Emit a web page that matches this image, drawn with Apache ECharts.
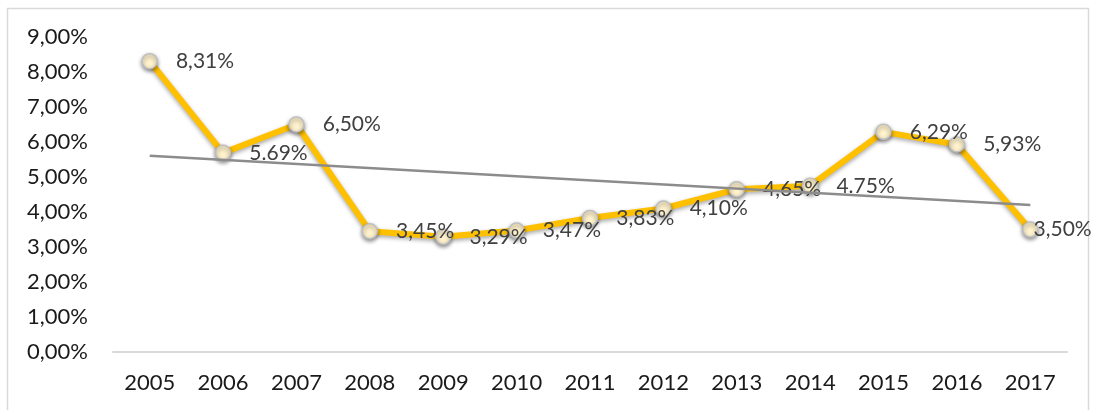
<!DOCTYPE html>
<html>
<head>
<meta charset="utf-8">
<script src="https://cdn.jsdelivr.net/npm/echarts@6/dist/echarts.min.js"></script>
<style>
  html, body { margin: 0; padding: 0; background: #fff; }
  #main { width: 1096px; height: 410px; }
</style>
</head>
<body>
<div id="main"></div>
<script>
// 数据
var years = ['2005', '2006', '2007', '2008', '2009', '2010', '2011', '2012', '2013', '2014', '2015', '2016', '2017'];
var rates = [8.31, 5.69, 6.50, 3.45, 3.29, 3.47, 3.83, 4.10, 4.65, 4.75, 6.29, 5.93, 3.50];
var rateLabels = ['8,31%', '5.69%', '6,50%', '3,45%', '3,29%', '3,47%', '3,83%', '4,10%', '4,65%', '4.75%', '6,29%', '5,93%', '3,50%'];
// 趋势线（只有两端的读数）
var trend = [5.61, null, null, null, null, null, null, null, null, null, null, null, 4.20];
var yTicks = ['0,00%', '1,00%', '2,00%', '3,00%', '4,00%', '5,00%', '6,00%', '7,00%', '8,00%', '9,00%'];

var chart = echarts.init(document.getElementById('main'));

var font = 'Lato, "Open Sans", sans-serif';

// 最后一个点的标签贴近圆点，避免超出画布
var rateData = rates.map(function (v, i) {
  if (i === rates.length - 1) {
    return { value: v, label: { distance: -5 } };
  }
  return v;
});

var option = {
  animation: false,
  grid: { left: 113, right: 29, top: 37, bottom: 58 },
  graphic: [{
    type: 'rect',
    shape: { x: 7.5, y: 8.5, width: 1081, height: 420 },
    style: { fill: 'none', stroke: '#d9d9d9', lineWidth: 1.5 },
    silent: true
  }],
  xAxis: {
    type: 'category',
    data: years,
    axisLine: { lineStyle: { color: '#d9d9d9', width: 2 } },
    axisTick: { show: false },
    axisLabel: { color: '#1a1a1a', fontSize: 22, fontFamily: font, margin: 20 }
  },
  yAxis: {
    type: 'value',
    min: 0,
    max: 9,
    interval: 1,
    splitLine: { show: false },
    axisLine: { show: false },
    axisTick: { show: false },
    axisLabel: {
      color: '#1a1a1a', fontSize: 22, fontFamily: font, margin: 25,
      formatter: function (v) { return yTicks[Math.round(v)]; }
    }
  },
  series: [
    {
      name: 'trend',
      type: 'line',
      data: trend,
      connectNulls: true,
      symbol: 'none',
      lineStyle: { color: '#8c8c8c', width: 2.5 },
      z: 3
    },
    {
      name: 'rate',
      type: 'line',
      data: rateData,
      symbol: 'circle',
      symbolSize: 15,
      lineStyle: {
        color: '#ffc000', width: 6,
        shadowColor: 'rgba(0,0,0,0.35)', shadowBlur: 4, shadowOffsetY: 2
      },
      itemStyle: {
        color: '#fff2cc', borderColor: '#bfbfbf', borderWidth: 1.5,
        shadowColor: 'rgba(0,0,0,0.45)', shadowBlur: 4, shadowOffsetY: 2
      },
      label: {
        show: true,
        position: 'right',
        distance: 18,
        color: '#404040',
        fontSize: 21,
        fontFamily: font,
        formatter: function (p) { return rateLabels[p.dataIndex]; }
      },
      z: 2
    }
  ]
};

chart.setOption(option);
</script>
</body>
</html>
